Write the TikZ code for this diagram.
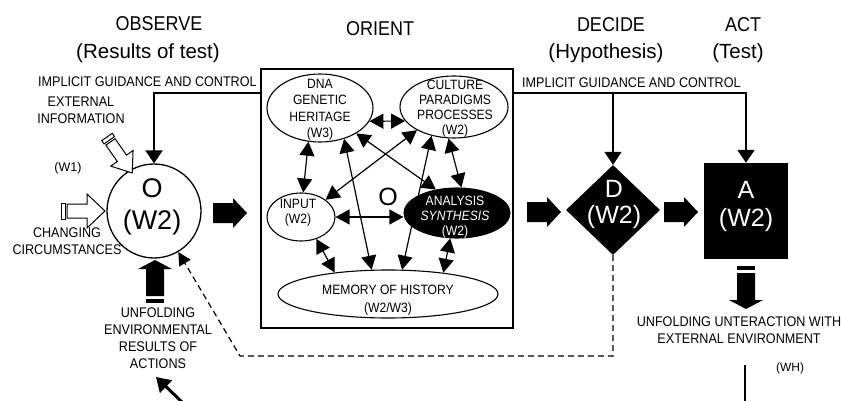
\documentclass[tikz,border=0pt]{standalone}
\usepackage{fontspec}
\setmainfont{Liberation Sans}
\newfontfamily\capsfont[FakeStretch=0.9]{Liberation Sans}
\usetikzlibrary{shapes.geometric,arrows.meta}

\tikzset{
  ltip/.tip={Triangle[length=14pt,width=15pt]},
  solidarrow/.pic={\fill (0,-10) -- (20,-10) -- (20,-15) -- (34,0) -- (20,15) -- (20,10) -- (0,10) -- cycle;},
  barredarrow/.pic={\fill (0,-9) rectangle (4,9);
                    \fill (7,-9) -- (34,-9) -- (34,-17) -- (43,0) -- (34,17) -- (34,9) -- (7,9) -- cycle;},
  hollowarrow/.pic={\draw[line width=1pt,fill=white] (0,-8) rectangle (4,8);
                    \draw[line width=1pt,fill=white] (6,-7) -- (26,-7) -- (26,-17) -- (44,0) -- (26,17) -- (26,7) -- (6,7) -- cycle;}
}

\begin{document}
\begin{tikzpicture}[x=1pt,y=-1pt,
  lbl/.style={font=\capsfont\fontsize{14}{17}\selectfont,align=center,inner sep=0pt},
  inlbl/.style={font=\capsfont\fontsize{13.5}{15}\selectfont,align=center,inner sep=0pt},
  headcap/.style={font=\capsfont\fontsize{20}{24}\selectfont,inner sep=0pt},
  headsub/.style={font=\fontsize{20.5}{24}\selectfont,inner sep=0pt},
  big/.style={font=\fontsize{27}{32}\selectfont,align=center,inner sep=0pt},
  mid/.style={font=\fontsize{25}{26}\selectfont,align=center,inner sep=0pt,text=white},
  bub/.style={ellipse,draw,line width=1.1pt,inner sep=0pt,fill=white},
  link/.style={ltip-ltip,line width=1.2pt},
  guide/.style={line width=#1,-{Triangle[length=13pt,width=17pt]}},
  guide/.default=2pt]

\fill[white] (0,0) rectangle (841,401);
\useasboundingbox (0,0) rectangle (841,401);

% column headings
\node[headcap] (hobs) at (159,24) {OBSERVE};
\node[headsub] (hobs2) at (148,53) {(Results of test)};
\node[headcap] (hori) at (380,29) {ORIENT};
\node[headcap] (hdec) at (611,25) {DECIDE};
\node[headsub] (hdec2) at (606,53) {(Hypothesis)};
\node[headcap] (hact) at (743,25) {ACT};
\node[headsub] (hact2) at (738,53) {(Test)};

% orient frame and its elements
\node[draw,line width=1.8pt,minimum width=252pt,minimum height=259pt,inner sep=0pt] (box) at (387,198.5) {};
\node[bub,minimum width=106pt,minimum height=68pt] (dna) at (320,108) {};
\node[inlbl,font=\capsfont\fontsize{13.5}{16.5}\selectfont] (dnat) at (320,110) {DNA\\GENETIC\\HERITAGE\\(W3)};
\node[bub,minimum width=108pt,minimum height=62pt] (cult) at (454,107) {};
\node[inlbl] (cultt) at (455,109) {CULTURE\\PARADIGMS\\PROCESSES\\(W2)};
\node[bub,minimum width=68pt,minimum height=48pt] (inp) at (301,217) {};
\node[inlbl] (inpt) at (298,213) {INPUT\\(W2)};
\node[bub,fill=black,minimum width=106pt,minimum height=50pt] (ana) at (457,213) {};
\node[inlbl,text=white] (anat) at (455,217) {ANALYSIS\\\textit{SYNTHESIS}\\(W2)};
\node[bub,minimum width=220pt,minimum height=48pt] (mem) at (388,294) {};
\node[inlbl,font=\capsfont\fontsize{13.5}{18}\selectfont] (memt) at (388,300) {MEMORY OF HISTORY\\(W2/W3)};
\node[font=\fontsize{25}{26}\selectfont,inner sep=0pt] (ocore) at (388,197) {O};

% links among the orient elements
\draw[link] (dna.-15) -- (cult.-164);
\draw[link] (dna.-109) -- (inp.85);
\draw[link] (dna.-52) -- (mem.124);
\draw[link] (cult.-128) -- (mem.60);
\draw[link] (cult.-148) -- (inp.35);
\draw[link] (dna.-35) -- (ana.132);
\draw[link] (cult.-100) -- (ana.80);
\draw[link] (inp.east) -- (inp.east -| ana.west);
\draw[link] (inp.-55) -- (mem.158);
\draw[link] (ana.-105) -- (mem.21);

% observe
\node[circle,draw,line width=1.3pt,minimum size=94pt,inner sep=0pt] (obs) at (154,211) {};
\node[big] (obst) at (152,207) {O\\(W2)};
\node[lbl] (extinfo) at (81,110.5) {EXTERNAL\\INFORMATION};
\node[font=\fontsize{12.5}{14}\selectfont,inner sep=0pt] (w1) at (68,168) {(W1)};
\node[lbl] (chg) at (67,241.5) {CHANGING\\CIRCUMSTANCES};
\node[lbl] (unf) at (158,338.5) {UNFOLDING\\ENVIRONMENTAL\\RESULTS OF\\ACTIONS};
\pic at (61,211) {hollowarrow};
\pic[rotate=-55,yscale=0.8] at (107,137) {hollowarrow};
\pic[rotate=90] at (155,303) {barredarrow};

% decide and act
\node[diamond,fill=black,minimum width=94pt,minimum height=90pt,inner sep=0pt] (dec) at (613,210) {};
\node[mid] (dect) at (614,204.5) {D\\(W2)};
\node[fill=black,minimum width=84pt,minimum height=96pt,inner sep=0pt] (act) at (746,211) {};
\node[mid,font=\fontsize{25}{28}\selectfont] (actt) at (746,206) {A\\(W2)};
\node[lbl] (inter) at (739,330.5) {UNFOLDING UNTERACTION WITH\\EXTERNAL ENVIRONMENT};
\node[font=\fontsize{12}{14}\selectfont,inner sep=0pt] (wh) at (790,368) {(WH)};
\pic[rotate=-90] at (746,266) {barredarrow};

% forward flow
\pic at (213,213) {solidarrow};
\pic at (527,212) {solidarrow};
\pic at (664,212) {solidarrow};

% implicit guidance and control
\node[lbl,anchor=west] (igl) at (38,82) {IMPLICIT GUIDANCE AND CONTROL};
\node[lbl,anchor=west] (igr) at (522,83) {IMPLICIT GUIDANCE AND CONTROL};
\coordinate (gl) at (box.west |- 0,93);
\coordinate (gr) at (box.east |- 0,93);
\draw[guide=2.4pt] (gl) -- (gl -| obs.north) -- (obs.north);
\draw[guide=2pt] (gr) -- (gr -| act.north) -- (act.north);
\draw[guide=1.5pt] (gr -| dec.north) -- (dec.north);

% feedback from decision
\coordinate (fb1) at (dec.south |- 0,356);
\coordinate (fb2) at (240,356);
\draw[line width=1.2pt,dash pattern=on 6pt off 4pt,-{Triangle[length=13pt,width=13pt]}] (dec.south) -- (fb1) -- (fb2) -- (obs);

% loose ends at the bottom
\coordinate (btail) at (184,404);
\coordinate (btip) at (156,377);
\draw[line width=3pt,-{Triangle[length=14pt,width=17pt]}] (btail) -- (btip);
\coordinate (wtop) at (745,365);
\coordinate (wbot) at (745,405);
\draw[line width=2pt] (wtop) -- (wbot);
\end{tikzpicture}
\end{document}
